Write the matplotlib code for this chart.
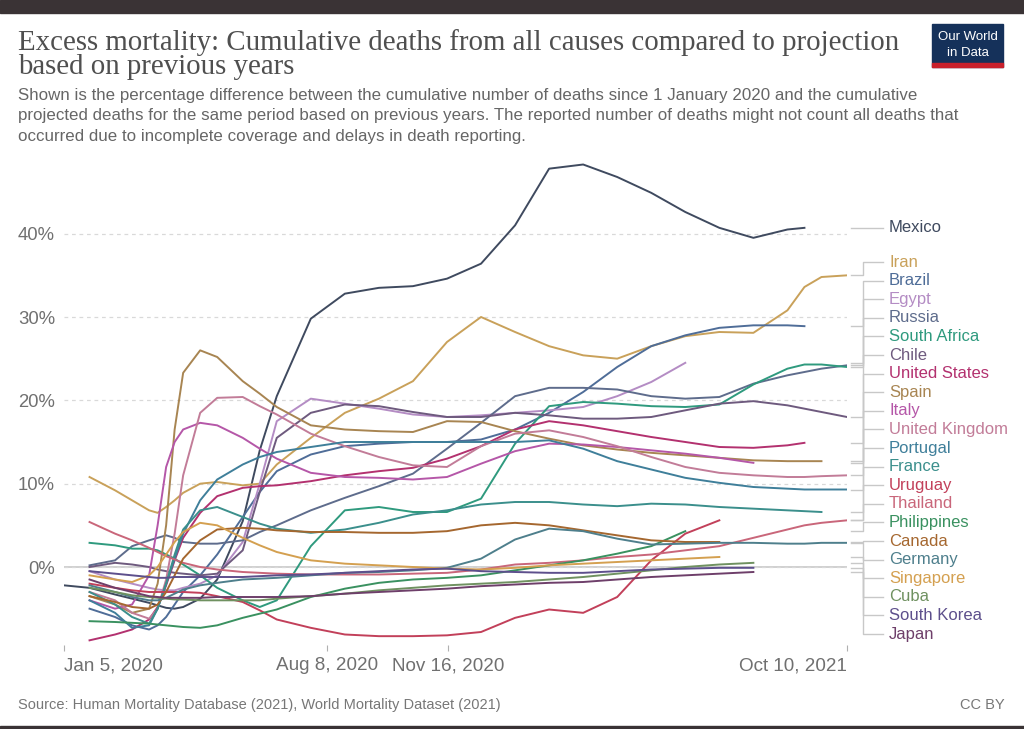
import numpy as np
import pandas as pd
import matplotlib
matplotlib.use('Agg')
import matplotlib.pyplot as plt
from matplotlib.patches import Rectangle
from matplotlib.transforms import blended_transform_factory

N = np.nan

days = [0, 21, 42, 56, 70, 77, 84, 91, 98, 112, 126, 147, 161, 175, 203, 231,
        259, 287, 315, 343, 371, 399, 427, 455, 483, 511, 539, 567, 595, 609, 623, 644]

# cumulative excess deaths, % above projection
mexico = [-2.2, -2.5, -3.3, -3.8, -4.3, -4.6, -4.9, -5.0, -4.8, -3.8, -1.5, 5.5, 14.0, 20.5, 29.8, 32.8,
          33.5, 33.7, 34.6, 36.4, 41.0, 47.8, 48.3, 46.8, 44.9, 42.6, 40.7, 39.5, 40.5, 40.7, N, N]
iran = [N, 10.8, 9.2, 8.0, 6.8, 6.5, 7.2, 8.0, 8.9, 10.0, 10.2, 9.8, 10.0, 12.3, 15.5, 18.5,
        20.2, 22.3, 27.0, 30.0, 28.2, 26.5, 25.4, 25.0, 26.5, 27.7, 28.2, 28.1, 30.8, 33.6, 34.8, 35.0]
brazil = [N, -5.0, -6.0, -7.0, -7.5, -7.0, -6.0, -4.5, -3.0, -1.0, 1.5, 6.0, 9.0, 11.5, 13.5, 14.5,
          14.8, 15.0, 15.0, 15.3, 16.5, 18.5, 21.0, 24.0, 26.5, 27.8, 28.7, 29.0, 29.0, 28.9, N, N]
egypt = [N, -0.5, -1.5, -2.0, -2.5, -2.7, -2.8, -2.8, -2.5, -2.0, -1.0, 3.0, 10.0, 17.5, 20.2, 19.6,
         19.0, 18.3, 18.0, 18.2, 18.5, 18.8, 19.2, 20.5, 22.2, 24.5, N, N, N, N, N, N]
russia = [N, 0.2, 0.8, 2.5, 3.2, 3.5, 3.8, 3.5, 3.0, 2.8, 2.8, 3.2, 4.2, 5.0, 6.8, 8.3,
          9.7, 11.2, 14.2, 17.3, 20.5, 21.5, 21.5, 21.3, 20.5, 20.2, 20.4, 22.0, 23.0, 23.4, 23.8, 24.2]
south_africa = [N, 2.9, 2.6, 2.2, 2.2, 2.0, 1.5, 1.0, 0.3, -1.0, -2.5, -4.0, -4.8, -4.0, 2.5, 6.8,
                7.2, 6.6, 6.6, 8.2, 14.8, 19.3, 19.8, 19.6, 19.3, 19.2, 19.5, 21.9, 23.8, 24.3, 24.3, 24.0]
chile = [N, 0.0, 0.5, 0.3, 0.0, -0.3, -0.5, -0.7, -0.8, -1.0, -0.8, 2.0, 9.0, 15.5, 18.5, 19.5,
         19.3, 18.6, 18.0, 18.0, 18.5, 18.2, 17.8, 17.8, 18.0, 18.8, 19.6, 19.9, 19.4, 19.0, 18.6, 18.0]
united_states = [N, -8.8, -8.1, -7.5, -6.3, -4.8, -2.2, 0.8, 3.5, 6.5, 8.5, 9.5, 9.7, 9.8, 10.3, 11.0,
                 11.5, 11.9, 13.0, 14.5, 16.5, 17.5, 17.0, 16.3, 15.6, 15.0, 14.4, 14.3, 14.6, 14.9, N, N]
spain = [N, -3.5, -4.5, -5.5, -5.0, -2.0, 5.0, 16.5, 23.3, 26.0, 25.2, 22.3, 20.8, 19.2, 17.0, 16.5,
         16.3, 16.2, 17.5, 17.4, 16.3, 15.4, 14.6, 14.1, 13.7, 13.4, 13.1, 12.8, 12.7, 12.7, 12.7, N]
italy = [N, -4.0, -5.0, -4.5, -1.0, 5.0, 12.0, 15.0, 16.5, 17.3, 17.0, 15.5, 14.2, 13.0, 11.3, 10.8,
         10.7, 10.5, 10.8, 12.4, 13.9, 14.8, 14.7, 14.4, 14.0, 13.6, 13.1, 12.5, N, N, N, N]
united_kingdom = [N, -3.0, -4.0, -5.5, -6.2, -5.0, -1.5, 4.0, 11.0, 18.5, 20.3, 20.4, 19.3, 18.3, 16.0, 14.5,
                  13.2, 12.2, 12.0, 14.5, 16.0, 16.4, 15.6, 14.5, 13.2, 12.0, 11.3, 11.0, 10.8, 10.8, 10.9, 11.0]
portugal = [N, -4.0, -5.5, -7.3, -7.0, -5.0, -2.0, 1.0, 4.0, 8.0, 10.5, 12.3, 13.2, 13.8, 14.4, 15.0,
            15.0, 15.0, 15.0, 15.0, 15.0, 15.2, 14.2, 12.7, 11.7, 10.7, 10.1, 9.6, 9.4, 9.3, 9.3, 9.3]
france = [N, -3.0, -4.5, -6.0, -6.8, -5.0, -2.0, 1.5, 4.5, 6.8, 7.2, 6.0, 5.2, 4.6, 4.1, 4.5,
          5.3, 6.3, 6.8, 7.5, 7.8, 7.8, 7.5, 7.3, 7.6, 7.5, 7.2, 7.0, 6.8, 6.7, 6.6, N]
uruguay = [N, -2.0, -2.5, -2.8, -3.0, -3.0, -3.0, -3.0, -3.0, -3.1, -3.5, -4.2, -5.2, -6.3, -7.3, -8.1,
           -8.3, -8.3, -8.2, -7.8, -6.1, -5.1, -5.5, -3.6, 0.8, 4.0, 5.6, N, N, N, N, N]
thailand = [N, 5.4, 4.0, 3.2, 2.3, 1.8, 1.3, 0.9, 0.5, 0.0, -0.3, -0.6, -0.7, -0.8, -0.9, -0.9,
            -0.9, -0.8, -0.7, -0.3, 0.3, 0.5, 0.8, 1.2, 1.5, 2.0, 2.5, 3.5, 4.5, 5.0, 5.3, 5.6]
philippines = [N, -6.5, -6.6, -6.7, -6.8, -6.9, -7.0, -7.1, -7.2, -7.3, -7.0, -6.1, -5.6, -5.1, -3.6, -2.6,
               -1.9, -1.5, -1.3, -1.0, -0.4, 0.2, 0.8, 1.6, 2.5, 4.3, N, N, N, N, N, N]
canada = [N, -3.5, -4.2, -4.8, -5.0, -4.5, -3.0, -1.0, 1.0, 3.2, 4.5, 4.7, 4.6, 4.4, 4.2, 4.2,
          4.1, 4.1, 4.3, 5.0, 5.3, 5.0, 4.4, 3.8, 3.2, 3.0, 3.0, N, N, N, N, N]
germany = [N, -2.2, -3.0, -3.6, -4.0, -4.0, -3.7, -3.2, -2.7, -2.2, -1.9, -1.5, -1.4, -1.3, -1.0, -0.7,
           -0.6, -0.4, -0.1, 1.0, 3.3, 4.6, 4.3, 3.4, 2.7, 2.8, 2.9, 2.9, 2.8, 2.8, 2.9, 2.9]
singapore = [N, -1.0, -1.5, -1.8, -1.0, 0.0, 1.5, 3.0, 4.2, 5.3, 5.0, 3.5, 2.6, 1.8, 0.8, 0.4,
             0.2, 0.0, -0.2, -0.3, -0.1, 0.2, 0.4, 0.6, 0.8, 1.0, 1.2, N, N, N, N, N]
cuba = [N, -2.5, -3.0, -3.4, -3.6, -3.7, -3.8, -3.9, -3.9, -4.0, -4.0, -4.0, -4.0, -3.8, -3.5, -3.2,
        -2.8, -2.5, -2.2, -2.0, -1.8, -1.5, -1.2, -0.8, -0.4, 0.0, 0.3, 0.5, N, N, N, N]
south_korea = [N, -0.5, -0.8, -1.0, -1.2, -1.3, -1.3, -1.2, -1.2, -1.2, -1.2, -1.2, -1.1, -1.0, -0.9, -0.7,
               -0.5, -0.3, -0.2, -0.5, -0.6, -0.7, -0.7, -0.5, -0.3, -0.2, -0.1, -0.1, N, N, N, N]
japan = [N, -1.5, -2.5, -3.0, -3.5, -3.6, -3.7, -3.7, -3.7, -3.7, -3.6, -3.6, -3.6, -3.6, -3.5, -3.2,
         -3.0, -2.8, -2.6, -2.3, -2.1, -1.9, -1.8, -1.5, -1.2, -1.0, -0.8, -0.6, N, N, N, N]

countries = ['Mexico', 'Iran', 'Brazil', 'Egypt', 'Russia', 'South Africa', 'Chile',
             'United States', 'Spain', 'Italy', 'United Kingdom', 'Portugal', 'France',
             'Uruguay', 'Thailand', 'Philippines', 'Canada', 'Germany', 'Singapore',
             'Cuba', 'South Korea', 'Japan']
series = [mexico, iran, brazil, egypt, russia, south_africa, chile, united_states, spain,
          italy, united_kingdom, portugal, france, uruguay, thailand, philippines, canada,
          germany, singapore, cuba, south_korea, japan]
colors = ['#3f4a5f', '#c9a15a', '#4f6d98', '#b48cc4', '#5e6c8c', '#2f9a7e', '#6e5a7e',
          '#b3316f', '#a88552', '#b557a8', '#c27c98', '#3f7f9a', '#3b8f8c', '#c2405a',
          '#c9667a', '#3a9160', '#a5672f', '#4e7f8c', '#d4a050', '#6f9160', '#5d4f8c', '#6e3f6a']

start = pd.Timestamp('2020-01-05')
end = pd.Timestamp('2021-10-10')
dates = start + pd.to_timedelta(days, unit='D')

W, H = 1024, 729
def fy(px):
    return 1 - px / H

fig = plt.figure(figsize=(W / 100, H / 100), dpi=100)
fig.patch.set_facecolor('white')
sans = ['Liberation Sans', 'DejaVu Sans']

ax = fig.add_axes([64 / W, fy(645), 783 / W, 485 / H])
ax.set_xlim(start, end)
ax.set_ylim(-9.36, 48.84)
for s in ax.spines.values():
    s.set_visible(False)

ax.set_yticks([0, 10, 20, 30, 40])
ax.set_yticklabels(['0%', '10%', '20%', '30%', '40%'], family=sans)
ax.tick_params(axis='y', length=0, pad=6.5, labelsize=13.3, labelcolor='#707070')
ax.yaxis.grid(True, color='#d9d9d9', linestyle=(0, (3, 3)), linewidth=0.9)
ax.axhline(0, color='#c4c4c4', lw=1.1, zorder=1)

xt = [start, pd.Timestamp('2020-08-08'), pd.Timestamp('2020-11-16'), end]
ax.set_xticks(xt)
ax.set_xticklabels(['Jan 5, 2020', 'Aug 8, 2020', 'Nov 16, 2020', 'Oct 10, 2021'], family=sans)
ax.tick_params(axis='x', length=4, color='#b0b0b0', labelsize=13.6, labelcolor='#707070', pad=5)
xl = ax.get_xticklabels()
xl[0].set_ha('left')
xl[-1].set_ha('right')

for vals, col in zip(series, colors):
    ax.plot(dates, vals, color=col, lw=1.4, zorder=3, solid_joinstyle='round')

# right-hand labels with connectors
trans = blended_transform_factory(ax.transAxes, ax.transData)
label_y = [40.7] + list(36.6 - 2.232 * np.arange(len(countries) - 1))
for name, vals, col, ly in zip(countries, series, colors, label_y):
    v = np.array(vals, dtype=float)
    last = v[~np.isnan(v)][-1]
    ax.plot([1.005, 1.02, 1.02, 1.046], [last, last, ly, ly], transform=trans,
            color='#c8c8c8', lw=1, clip_on=False, zorder=2)
    ax.text(1.0537, ly, name, transform=trans, color=col, fontsize=12,
            va='center', ha='left', family=sans)

# header
fig.patches.append(Rectangle((0, fy(13)), 1, 13 / H, transform=fig.transFigure,
                             color='#3a3335', zorder=0))
fig.patches.append(Rectangle((0, 0), 1, 3 / H, transform=fig.transFigure,
                             color='#3a3335', zorder=0))
serif = ['Liberation Serif', 'DejaVu Serif']
fig.text(18 / W, fy(29),
         'Excess mortality: Cumulative deaths from all causes compared to projection\n'
         'based on previous years',
         fontsize=20.8, family=serif, color='#4f4f4f', va='top', linespacing=0.9)
sub = ('Shown is the percentage difference between the cumulative number of deaths since 1 January 2020 and the cumulative\n'
       'projected deaths for the same period based on previous years. The reported number of deaths might not count all deaths that\n'
       'occurred due to incomplete coverage and delays in death reporting.')
fig.text(18 / W, fy(88), sub, fontsize=12.2, family=sans, color='#666666',
         va='top', linespacing=1.45)

# logo
fig.patches.append(Rectangle((932 / W, fy(67)), 71 / W, 43 / H, transform=fig.transFigure,
                             color='#15315a', zorder=1))
fig.patches.append(Rectangle((932 / W, fy(67)), 71 / W, 4 / H, transform=fig.transFigure,
                             color='#c8202c', zorder=2))
fig.text(967.5 / W, fy(37), 'Our World', fontsize=9.5, family=sans, color='white',
         ha='center', va='center', zorder=3)
fig.text(967.5 / W, fy(53), 'in Data', fontsize=9.5, family=sans, color='white',
         ha='center', va='center', zorder=3)

# footer
fig.text(18 / W, fy(705), 'Source: Human Mortality Database (2021), World Mortality Dataset (2021)',
         fontsize=10.5, family=sans, color='#777777', va='center')
fig.text(1005 / W, fy(705), 'CC BY', fontsize=10.5, family=sans, color='#777777',
         va='center', ha='right')

fig.savefig('out.png', dpi=100)
